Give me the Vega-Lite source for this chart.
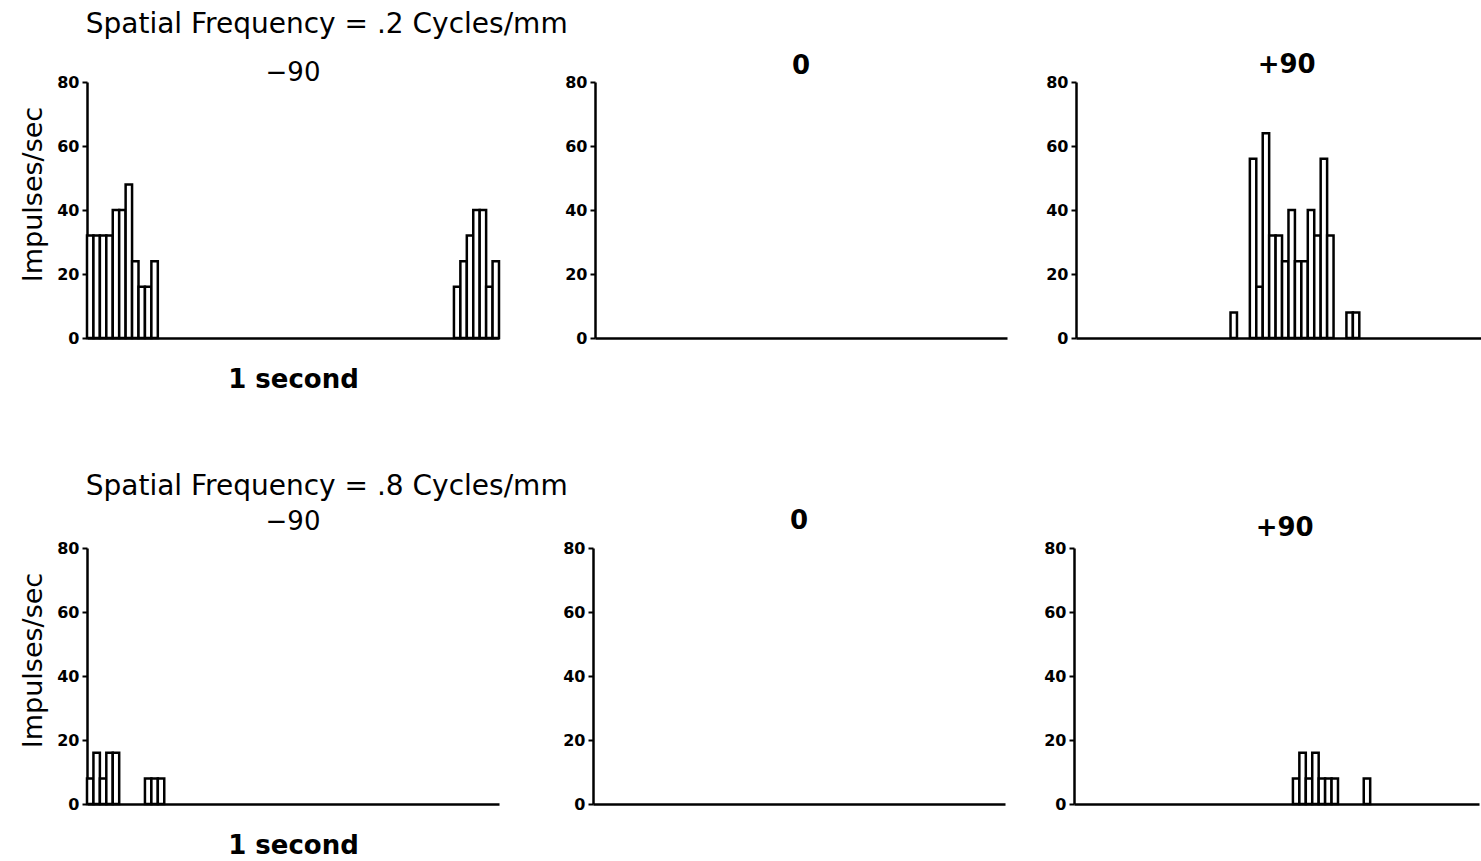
{
  "$schema": "https://vega.github.io/schema/vega-lite/v6.json",
  "padding": {"left": 19, "top": 11, "right": 0, "bottom": 0},
  "background": "white",
  "config": {
    "view": {"stroke": null},
    "font": "DejaVu Sans",
    "axis": {"domainColor": "black", "domainWidth": 2.5, "tickColor": "black", "tickWidth": 2, "tickSize": 5, "labelFontWeight": "bold", "labelFontSize": 16, "labelColor": "black", "labelPadding": 3, "grid": false, "titleColor": "black"},
    "title": {"color": "black"}
  },
  "datasets": {
    "spikes": [
      {"p": "a", "bin": 0, "end": 1, "v": 32},
      {"p": "a", "bin": 1, "end": 2, "v": 32},
      {"p": "a", "bin": 2, "end": 3, "v": 32},
      {"p": "a", "bin": 3, "end": 4, "v": 32},
      {"p": "a", "bin": 4, "end": 5, "v": 40},
      {"p": "a", "bin": 5, "end": 6, "v": 40},
      {"p": "a", "bin": 6, "end": 7, "v": 48},
      {"p": "a", "bin": 7, "end": 8, "v": 24},
      {"p": "a", "bin": 8, "end": 9, "v": 16},
      {"p": "a", "bin": 9, "end": 10, "v": 16},
      {"p": "a", "bin": 10, "end": 11, "v": 24},
      {"p": "a", "bin": 57, "end": 58, "v": 16},
      {"p": "a", "bin": 58, "end": 59, "v": 24},
      {"p": "a", "bin": 59, "end": 60, "v": 32},
      {"p": "a", "bin": 60, "end": 61, "v": 40},
      {"p": "a", "bin": 61, "end": 62, "v": 40},
      {"p": "a", "bin": 62, "end": 63, "v": 16},
      {"p": "a", "bin": 63, "end": 64, "v": 24},
      {"p": "c", "bin": 24, "end": 25, "v": 8},
      {"p": "c", "bin": 27, "end": 28, "v": 56},
      {"p": "c", "bin": 28, "end": 29, "v": 16},
      {"p": "c", "bin": 29, "end": 30, "v": 64},
      {"p": "c", "bin": 30, "end": 31, "v": 32},
      {"p": "c", "bin": 31, "end": 32, "v": 32},
      {"p": "c", "bin": 32, "end": 33, "v": 24},
      {"p": "c", "bin": 33, "end": 34, "v": 40},
      {"p": "c", "bin": 34, "end": 35, "v": 24},
      {"p": "c", "bin": 35, "end": 36, "v": 24},
      {"p": "c", "bin": 36, "end": 37, "v": 40},
      {"p": "c", "bin": 37, "end": 38, "v": 32},
      {"p": "c", "bin": 38, "end": 39, "v": 56},
      {"p": "c", "bin": 39, "end": 40, "v": 32},
      {"p": "c", "bin": 42, "end": 43, "v": 8},
      {"p": "c", "bin": 43, "end": 44, "v": 8},
      {"p": "d", "bin": 0, "end": 1, "v": 8},
      {"p": "d", "bin": 1, "end": 2, "v": 16},
      {"p": "d", "bin": 2, "end": 3, "v": 8},
      {"p": "d", "bin": 3, "end": 4, "v": 16},
      {"p": "d", "bin": 4, "end": 5, "v": 16},
      {"p": "d", "bin": 9, "end": 10, "v": 8},
      {"p": "d", "bin": 10, "end": 11, "v": 8},
      {"p": "d", "bin": 11, "end": 12, "v": 8},
      {"p": "f", "bin": 34, "end": 35, "v": 8},
      {"p": "f", "bin": 35, "end": 36, "v": 16},
      {"p": "f", "bin": 36, "end": 37, "v": 8},
      {"p": "f", "bin": 37, "end": 38, "v": 16},
      {"p": "f", "bin": 38, "end": 39, "v": 8},
      {"p": "f", "bin": 39, "end": 40, "v": 8},
      {"p": "f", "bin": 40, "end": 41, "v": 8},
      {"p": "f", "bin": 45, "end": 46, "v": 8}
    ]
  },
  "spacing": 81,
  "vconcat": [
    {
      "title": {"text": "Spatial Frequency = .2 Cycles/mm", "anchor": "start", "fontSize": 28, "fontWeight": "normal", "offset": 13, "dx": 66},
      "spacing": 63,
      "hconcat": [
        {
          "width": 412, "height": 256,
          "title": {"text": "−90", "fontSize": 26, "fontWeight": "normal", "offset": -12},
          "data": {"name": "spikes"},
          "transform": [{"filter": "datum.p === 'a'"}],
          "mark": {"type": "bar", "fill": "white", "stroke": "black", "strokeWidth": 2.5},
          "encoding": {
            "x": {"field": "bin", "type": "quantitative", "scale": {"domain": [0, 64]}, "axis": {"title": "1 second", "labels": false, "ticks": false, "titleFontSize": 26, "titleFontWeight": "bold", "titlePadding": 28}},
            "x2": {"field": "end"},
            "y": {"field": "v", "type": "quantitative", "scale": {"domain": [0, 80]}, "axis": {"values": [0, 20, 40, 60, 80], "title": "Impulses/sec", "titleFontSize": 27, "titleFontWeight": "normal", "titlePadding": 9, "titleY": 112}},
            "y2": {"datum": 0}
          }
        },
        {
          "spacing": 38,
          "hconcat": [
            {
              "width": 412, "height": 256,
              "title": {"text": "0", "fontSize": 26, "fontWeight": "bold", "offset": -5},
              "data": {"name": "spikes"},
              "transform": [{"filter": "datum.p === 'b'"}],
              "mark": {"type": "bar", "fill": "white", "stroke": "black", "strokeWidth": 2.5},
              "encoding": {
                "x": {"field": "bin", "type": "quantitative", "scale": {"domain": [0, 64]}, "axis": {"title": null, "labels": false, "ticks": false}},
                "x2": {"field": "end"},
                "y": {"field": "v", "type": "quantitative", "scale": {"domain": [0, 80]}, "axis": {"values": [0, 20, 40, 60, 80], "title": null}},
                "y2": {"datum": 0}
              }
            },
            {
              "width": 405, "height": 256,
              "title": {"text": "+90", "fontSize": 26, "fontWeight": "bold", "offset": -4, "anchor": "start", "dx": 212},
              "data": {"name": "spikes"},
              "transform": [{"filter": "datum.p === 'c'"}],
              "mark": {"type": "bar", "fill": "white", "stroke": "black", "strokeWidth": 2.5},
              "encoding": {
                "x": {"field": "bin", "type": "quantitative", "scale": {"domain": [0, 62.9]}, "axis": {"title": null, "labels": false, "ticks": false}},
                "x2": {"field": "end"},
                "y": {"field": "v", "type": "quantitative", "scale": {"domain": [0, 80]}, "axis": {"values": [0, 20, 40, 60, 80], "title": null}},
                "y2": {"datum": 0}
              }
            }
          ]
        }
      ]
    },
    {
      "title": {"text": "Spatial Frequency = .8 Cycles/mm", "anchor": "start", "fontSize": 28, "fontWeight": "normal", "offset": 7, "dx": 66},
      "spacing": 63,
      "hconcat": [
        {
          "width": 412, "height": 256,
          "title": {"text": "−90", "fontSize": 26, "fontWeight": "normal", "offset": 5},
          "data": {"name": "spikes"},
          "transform": [{"filter": "datum.p === 'd'"}],
          "mark": {"type": "bar", "fill": "white", "stroke": "black", "strokeWidth": 2.5},
          "encoding": {
            "x": {"field": "bin", "type": "quantitative", "scale": {"domain": [0, 64]}, "axis": {"title": "1 second", "labels": false, "ticks": false, "titleFontSize": 26, "titleFontWeight": "bold", "titlePadding": 28}},
            "x2": {"field": "end"},
            "y": {"field": "v", "type": "quantitative", "scale": {"domain": [0, 80]}, "axis": {"values": [0, 20, 40, 60, 80], "title": "Impulses/sec", "titleFontSize": 27, "titleFontWeight": "normal", "titlePadding": 9, "titleY": 112}},
            "y2": {"datum": 0}
          }
        },
        {
          "spacing": 38,
          "hconcat": [
            {
              "width": 412, "height": 256,
              "title": {"text": "0", "fontSize": 26, "fontWeight": "bold", "offset": 6},
              "data": {"name": "spikes"},
              "transform": [{"filter": "datum.p === 'e'"}],
              "mark": {"type": "bar", "fill": "white", "stroke": "black", "strokeWidth": 2.5},
              "encoding": {
                "x": {"field": "bin", "type": "quantitative", "scale": {"domain": [0, 64]}, "axis": {"title": null, "labels": false, "ticks": false}},
                "x2": {"field": "end"},
                "y": {"field": "v", "type": "quantitative", "scale": {"domain": [0, 80]}, "axis": {"values": [0, 20, 40, 60, 80], "title": null}},
                "y2": {"datum": 0}
              }
            },
            {
              "width": 405, "height": 256,
              "title": {"text": "+90", "fontSize": 26, "fontWeight": "bold", "offset": -1, "anchor": "start", "dx": 212},
              "data": {"name": "spikes"},
              "transform": [{"filter": "datum.p === 'f'"}],
              "mark": {"type": "bar", "fill": "white", "stroke": "black", "strokeWidth": 2.5},
              "encoding": {
                "x": {"field": "bin", "type": "quantitative", "scale": {"domain": [0, 62.9]}, "axis": {"title": null, "labels": false, "ticks": false}},
                "x2": {"field": "end"},
                "y": {"field": "v", "type": "quantitative", "scale": {"domain": [0, 80]}, "axis": {"values": [0, 20, 40, 60, 80], "title": null}},
                "y2": {"datum": 0}
              }
            }
          ]
        }
      ]
    }
  ]
}
